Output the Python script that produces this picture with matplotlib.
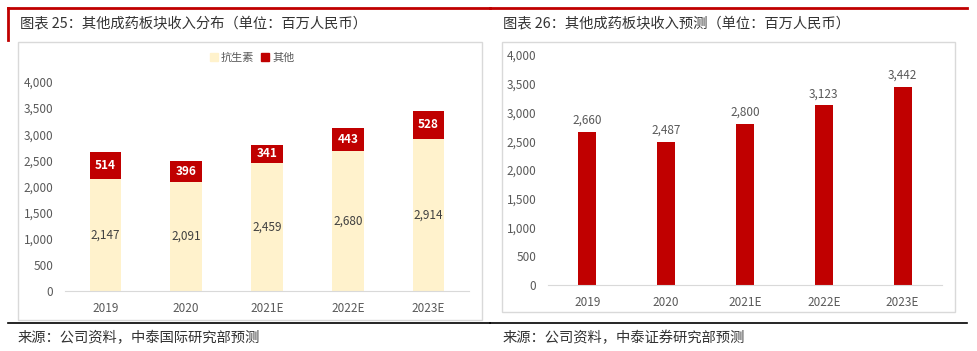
import matplotlib
matplotlib.use("Agg")
import matplotlib.pyplot as plt
from matplotlib.patches import Rectangle, Patch
from matplotlib.lines import Line2D
from matplotlib.ticker import FuncFormatter, MultipleLocator

plt.rcParams['font.family'] = ['Noto Sans CJK SC', 'DejaVu Sans']

years = ["2019", "2020", "2021E", "2022E", "2023E"]
antibiotics = [2147, 2091, 2459, 2680, 2914]
others = [514, 396, 341, 443, 528]
totals = [2660, 2487, 2800, 3123, 3442]

RED = "#C00000"
BEIGE = "#FFF2CC"
GRAY = "#595959"
W, H = 978, 351


def fbox(x0, y0, x1, y1):
    # pixel box -> figure fraction [left, bottom, width, height]
    return [x0 / W, 1 - y1 / H, (x1 - x0) / W, (y1 - y0) / H]


def hline(fig, x0, x1, y, color, lw):
    fig.add_artist(Line2D([x0 / W, x1 / W], [1 - y / H, 1 - y / H],
                          color=color, lw=lw, transform=fig.transFigure))


def vline(fig, x, y0, y1, color, lw):
    fig.add_artist(Line2D([x / W, x / W], [1 - y0 / H, 1 - y1 / H],
                          color=color, lw=lw, transform=fig.transFigure))


def frame(fig, x0, y0, x1, y1):
    l, b, w, h = fbox(x0, y0, x1, y1)
    fig.add_artist(Rectangle((l, b), w, h, transform=fig.transFigure,
                             fill=False, edgecolor="#D9D9D9", lw=1))


def style_axis(ax):
    ax.set_ylim(0, 4000)
    ax.yaxis.set_major_locator(MultipleLocator(500))
    ax.yaxis.set_major_formatter(FuncFormatter(lambda v, p: f"{int(v):,}"))
    for s in ["top", "right", "left"]:
        ax.spines[s].set_visible(False)
    ax.spines["bottom"].set_color("#D9D9D9")
    ax.tick_params(axis="both", length=0, labelsize=8.5, colors=GRAY)
    ax.tick_params(axis="y", pad=8.5)
    ax.tick_params(axis="x", pad=8)
    ax.set_xlim(-0.5, len(years) - 0.5)


fig = plt.figure(figsize=(9.78, 3.51), dpi=100)

# ---------- left panel ----------
hline(fig, 8, 490, 8, RED, 2)
vline(fig, 8, 8, 40, RED, 2)
fig.text(20 / W, 1 - 23 / H, "图表 25：其他成药板块收入分布（单位：百万人民币）",
         fontsize=10.3, color="#333333", va="center")
frame(fig, 18, 42, 482, 320)
hline(fig, 8, 490, 323, "#000000", 1.2)
fig.text(18 / W, 1 - 338 / H, "来源：公司资料，中泰国际研究部预测",
         fontsize=10.3, color="#333333", va="center")

ax1 = fig.add_axes(fbox(65, 82, 469, 291))
x = range(len(years))
ax1.bar(x, antibiotics, width=0.39, color=BEIGE)
ax1.bar(x, others, bottom=antibiotics, width=0.39, color=RED)
for i in x:
    ax1.text(i, antibiotics[i] / 2, f"{antibiotics[i]:,}", ha="center", va="center",
             fontsize=8.5, color="#404040")
    ax1.text(i, antibiotics[i] + others[i] / 2, f"{others[i]:,}", ha="center",
             va="center", fontsize=8.5, color="white", fontweight="bold")
ax1.set_xticks(list(x))
ax1.set_xticklabels(years)
style_axis(ax1)
fig.legend(handles=[Patch(color=BEIGE, label="抗生素"), Patch(color=RED, label="其他")],
           loc="center", bbox_to_anchor=(252 / W, 1 - 58 / H), ncol=2, frameon=False,
           fontsize=8, handlelength=0.7, handleheight=0.7, handletextpad=0.3,
           columnspacing=0.6, labelcolor=GRAY)

# ---------- right panel ----------
hline(fig, 490, 967, 8, RED, 2)
fig.text(503 / W, 1 - 23 / H, "图表 26：其他成药板块收入预测（单位：百万人民币）",
         fontsize=10.3, color="#333333", va="center")
frame(fig, 502, 42, 955, 312)
hline(fig, 490, 967, 323, "#000000", 1.2)
fig.text(503 / W, 1 - 338 / H, "来源：公司资料，中泰证券研究部预测",
         fontsize=10.3, color="#333333", va="center")

ax2 = fig.add_axes(fbox(548, 55, 942, 285))
ax2.bar(x, totals, width=0.23, color=RED)
for i in x:
    ax2.text(i, totals[i] + 90, f"{totals[i]:,}", ha="center", va="bottom",
             fontsize=8.5, color=GRAY)
ax2.set_xticks(list(x))
ax2.set_xticklabels(years)
style_axis(ax2)

fig.savefig("out.png", dpi=100)
